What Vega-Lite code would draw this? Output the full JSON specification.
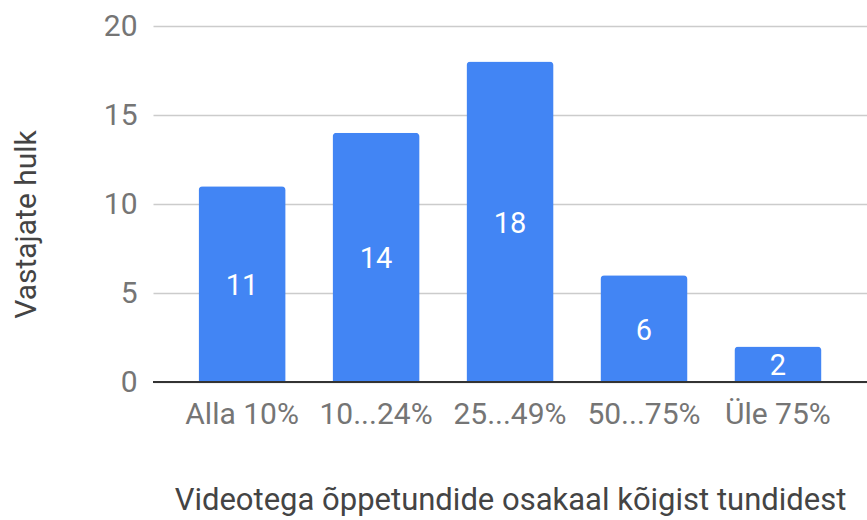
{
  "$schema": "https://vega.github.io/schema/vega-lite/v6.json",
  "width": 714,
  "height": 356,
  "autosize": {"type": "none"},
  "padding": {"left": 153, "top": 26, "right": 0, "bottom": 138},
  "background": "white",
  "config": {
    "view": {"stroke": null},
    "font": "Roboto"
  },
  "data": {
    "values": [
      {"kategooria": "Alla 10%", "vastajaid": 11},
      {"kategooria": "10...24%", "vastajaid": 14},
      {"kategooria": "25...49%", "vastajaid": 18},
      {"kategooria": "50...75%", "vastajaid": 6},
      {"kategooria": "Üle 75%", "vastajaid": 2}
    ]
  },
  "encoding": {
    "x": {
      "field": "kategooria",
      "type": "nominal",
      "sort": null,
      "scale": {"paddingInner": 0.35, "paddingOuter": 0.34},
      "axis": {
        "title": "Videotega õppetundide osakaal kõigist tundidest",
        "labelAngle": 0,
        "labelFontSize": 30,
        "labelColor": "#757575",
        "labelFont": "Roboto",
        "labelPadding": 17,
        "domain": false,
        "ticks": false,
        "titleFont": "Roboto",
        "titleFontSize": 31,
        "titleFontWeight": "normal",
        "titleColor": "#444444",
        "titlePadding": 56
      }
    }
  },
  "layer": [
    {
      "mark": {"type": "bar", "color": "#4285F4", "cornerRadiusTopLeft": 4, "cornerRadiusTopRight": 4},
      "encoding": {
        "y": {
          "field": "vastajaid",
          "type": "quantitative",
          "scale": {"domain": [0, 20], "nice": false},
          "axis": {
            "title": "Vastajate hulk",
            "values": [0, 5, 10, 15, 20],
            "domain": false,
            "ticks": false,
            "grid": true,
            "gridColor": "#cccccc",
            "gridWidth": 1.5,
            "labelFontSize": 30,
            "labelColor": "#757575",
            "labelFont": "Roboto",
            "labelPadding": 16,
            "titleFont": "Roboto",
            "titleFontSize": 30,
            "titleFontWeight": "normal",
            "titleColor": "#444444",
            "titlePadding": 62,
            "titleY": 198
          }
        }
      }
    },
    {
      "mark": {"type": "rule", "color": "#333333", "strokeWidth": 2},
      "encoding": {
        "x": null,
        "y": {"datum": 0, "type": "quantitative"}
      }
    },
    {
      "mark": {"type": "text", "color": "white", "fontSize": 29, "font": "Roboto", "baseline": "middle", "dy": 2},
      "encoding": {
        "y": {"field": "half", "type": "quantitative"},
        "text": {"field": "vastajaid", "type": "quantitative"}
      },
      "transform": [{"calculate": "datum.vastajaid / 2", "as": "half"}]
    }
  ]
}
